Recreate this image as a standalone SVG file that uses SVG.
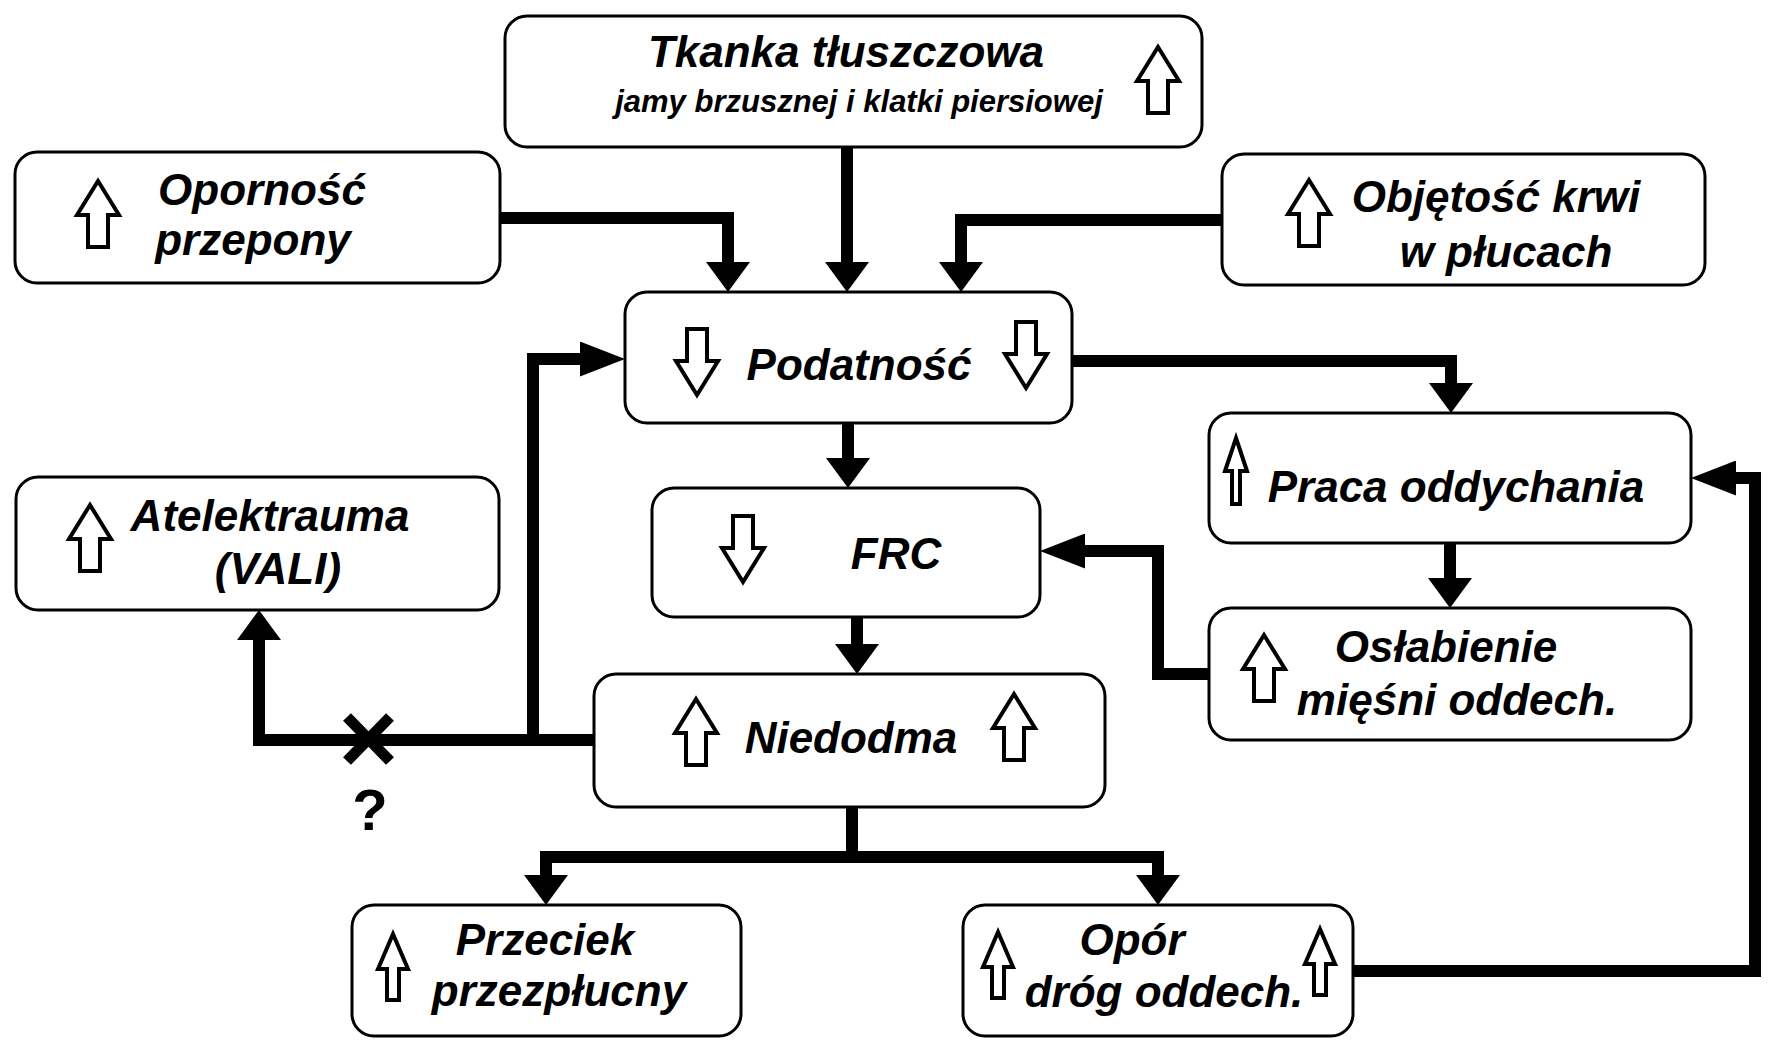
<svg xmlns="http://www.w3.org/2000/svg" xmlns:xlink="http://www.w3.org/1999/xlink" width="1768" height="1044" viewBox="0 0 1768 1044">
<defs>
<style>
.box{fill:#fff;stroke:#000;stroke-width:3}
.t{font-family:"Liberation Sans",Arial,sans-serif;font-weight:bold;font-style:italic;font-size:44px;fill:#000;text-anchor:middle}
.ts{font-size:31px}
.ha{fill:#fff;stroke:#000;stroke-width:4;stroke-linejoin:miter}
.c{fill:none;stroke:#000;stroke-width:12;stroke-linejoin:miter;stroke-linecap:butt}
.cv{marker-end:url(#arrV)}
.ch{marker-end:url(#arrH)}
</style>
<marker id="arrV" markerUnits="userSpaceOnUse" markerWidth="30" markerHeight="44" refX="0" refY="22" orient="auto" viewBox="0 0 30 44"><path d="M0,0 L30,22 L0,44 Z" fill="#000"/></marker>
<marker id="arrH" markerUnits="userSpaceOnUse" markerWidth="45" markerHeight="35" refX="0" refY="17.5" orient="auto" viewBox="0 0 45 35"><path d="M0,0 L45,17.5 L0,35 Z" fill="#000"/></marker>
<path id="up" d="M0,-33 L21,1 L10,1 L10,33 L-10,33 L-10,1 L-21,1 Z"/>
<path id="upN" d="M0,-33 L15,2 L6,2 L6,33 L-6,33 L-6,2 L-15,2 Z"/>
<path id="upT" d="M0,-33 L11,0 L4,0 L4,33 L-4,33 L-4,0 L-11,0 Z"/>
</defs>
<rect width="1768" height="1044" fill="#fff"/>

<g id="connectors">
<path class="c cv" d="M847,147 L847,262"/>
<path class="c cv" d="M500,218 L728,218 L728,262"/>
<path class="c cv" d="M1222,220 L961,220 L961,262"/>
<path class="c cv" d="M1072,361 L1451,361 L1451,383"/>
<path class="c cv" d="M848,423 L848,458"/>
<path class="c cv" d="M1450,543 L1450,578"/>
<path class="c cv" d="M857,617 L857,644"/>
<path class="c ch" d="M1208,674 L1158,674 L1158,551 L1085,551"/>
<path class="c cv" d="M594,740 L259,740 L259,640"/>
<path class="c ch" d="M533,740 L533,359 L580,359"/>
<path class="c" d="M852,807 L852,863"/>
<path class="c cv" d="M852,857 L546,857 L546,875"/>
<path class="c cv" d="M852,857 L1158,857 L1158,875"/>
<path class="c ch" d="M1353,971 L1755,971 L1755,478 L1736,478"/>
<path d="M347,717 L390,761 M390,717 L347,761" fill="none" stroke="#000" stroke-width="11"/>
<text x="370" y="830" font-family="'Liberation Sans',Arial,sans-serif" font-weight="bold" font-size="58" text-anchor="middle">?</text>
</g>

<g id="tkanka">
<rect class="box" x="505" y="16" width="697" height="131" rx="22"/>
<text class="t" x="846" y="67">Tkanka tłuszczowa</text>
<text class="t ts" x="859" y="112">jamy brzusznej i klatki piersiowej</text>
<use xlink:href="#up" class="ha" x="1158" y="80"/>
</g>

<g id="opornosc">
<rect class="box" x="15" y="152" width="485" height="131" rx="22"/>
<use xlink:href="#up" class="ha" x="98" y="214"/>
<text class="t" x="262" y="205">Oporność</text>
<text class="t" x="253" y="255">przepony</text>
</g>

<g id="objetosc">
<rect class="box" x="1222" y="154" width="483" height="131" rx="22"/>
<use xlink:href="#up" class="ha" x="1309" y="213"/>
<text class="t" x="1496" y="212">Objętość krwi</text>
<text class="t" x="1506" y="267">w płucach</text>
</g>

<g id="podatnosc">
<rect class="box" x="625" y="292" width="447" height="131" rx="22"/>
<use xlink:href="#up" class="ha" transform="translate(697,362) rotate(180)"/>
<use xlink:href="#up" class="ha" transform="translate(1026,355) rotate(180)"/>
<text class="t" x="859" y="380">Podatność</text>
</g>

<g id="praca">
<rect class="box" x="1209" y="413" width="482" height="130" rx="22"/>
<use xlink:href="#upT" class="ha" x="1236" y="471"/>
<text class="t" x="1456" y="502">Praca oddychania</text>
</g>

<g id="atelektrauma">
<rect class="box" x="16" y="477" width="483" height="133" rx="22"/>
<use xlink:href="#up" class="ha" x="90" y="538"/>
<text class="t" x="270" y="531">Atelektrauma</text>
<text class="t" x="278" y="584">(VALI)</text>
</g>

<g id="frc">
<rect class="box" x="652" y="488" width="388" height="129" rx="22"/>
<use xlink:href="#up" class="ha" transform="translate(743,549) rotate(180)"/>
<text class="t" x="896" y="569">FRC</text>
</g>

<g id="oslabienie">
<rect class="box" x="1209" y="608" width="482" height="132" rx="22"/>
<use xlink:href="#up" class="ha" x="1264" y="668"/>
<text class="t" x="1446" y="662">Osłabienie</text>
<text class="t" x="1457" y="715">mięśni oddech.</text>
</g>

<g id="niedodma">
<rect class="box" x="594" y="674" width="511" height="133" rx="22"/>
<use xlink:href="#up" class="ha" x="696" y="732"/>
<use xlink:href="#up" class="ha" x="1014" y="727"/>
<text class="t" x="851" y="753">Niedodma</text>
</g>

<g id="przeciek">
<rect class="box" x="352" y="905" width="389" height="131" rx="22"/>
<use xlink:href="#upN" class="ha" x="393" y="967"/>
<text class="t" x="545" y="955">Przeciek</text>
<text class="t" x="559" y="1006">przezpłucny</text>
</g>

<g id="opor">
<rect class="box" x="963" y="905" width="390" height="131" rx="22"/>
<use xlink:href="#upN" class="ha" x="998" y="965"/>
<use xlink:href="#upN" class="ha" x="1320" y="962"/>
<text class="t" x="1132" y="955">Opór</text>
<text class="t" x="1164" y="1007">dróg oddech.</text>
</g>
</svg>
